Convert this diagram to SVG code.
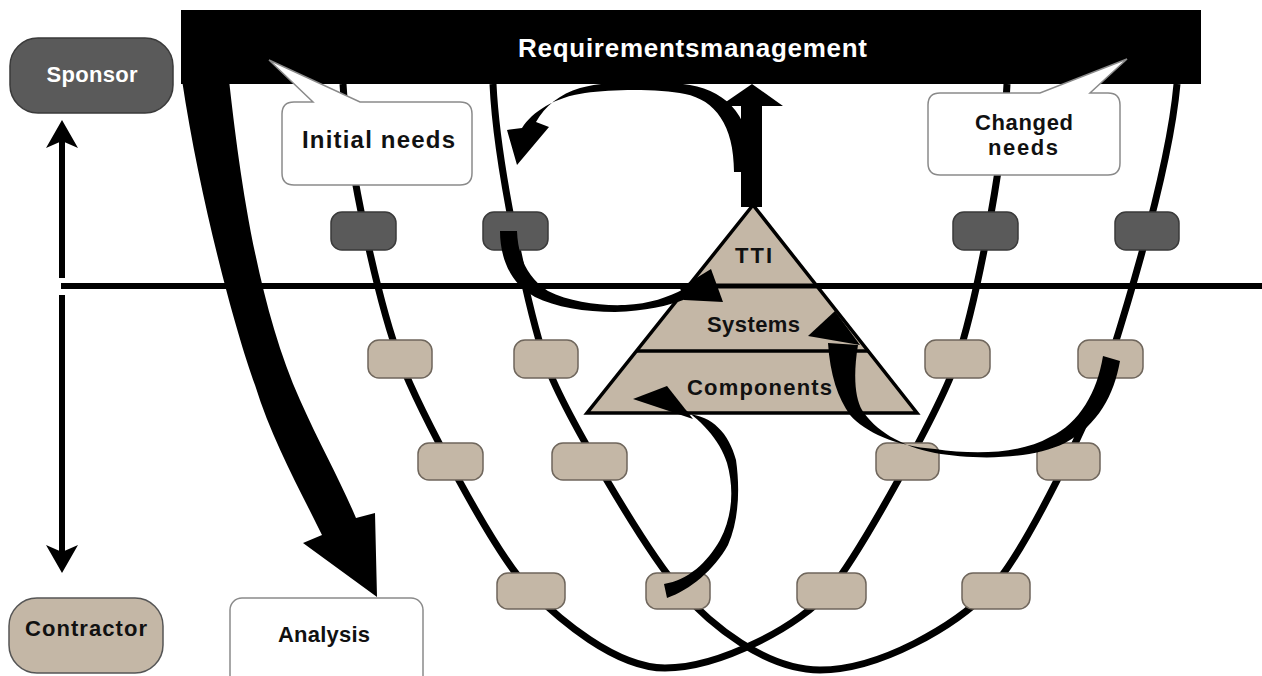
<svg xmlns="http://www.w3.org/2000/svg" width="1262" height="676" viewBox="0 0 1262 676">
<style>
.lbl{font-family:"Liberation Sans",Arial,sans-serif;font-weight:bold;font-size:22px;text-anchor:middle;fill:#111}
.wt{fill:#fff}
.tan{fill:#c4b7a6;stroke:#6f665c;stroke-width:1.5}
.dark{fill:#5a5a5a;stroke:#3a3a3a;stroke-width:1.5}
.curve{fill:none;stroke:#000;stroke-width:7}
.ln{stroke:#000;stroke-width:6;fill:none}
.call{fill:#fff;stroke:#8a8a8a;stroke-width:1.5}
.blk{fill:#000}
</style>
<rect width="1262" height="676" fill="#fff"/>

<g id="requirements-management">
<rect x="181" y="10" width="1020" height="74" fill="#000"/>
</g>

<g id="lanes">
<path class="blk" d="M182,80 L229,80 C238,160 255,300 300,400 C320,445 340,480 356,518 L375,513 L377,597 L303,543 L322,535 C300,490 272,440 255,385 C235,330 200,200 182,80 Z"/>
<path class="curve" d="M343,84 C348,174 382,313 400,360 C418,407 494.5,554.7 530,590 C558,618 615,668 665,668 C720,668 801.6,625.1 830,590 C861.5,551 941,407.4 957,360 C973,312.6 1003,174 1007,84"/>
<path class="curve" d="M493,84 C497,170 529.4,312.5 545,360 C560.6,407.5 647,552.5 680,590 C709.7,623.75 765,670 820,670 C880,670 955,626 990,590 C1025,554 1095,407.7 1110,360 C1125,312.3 1169,174 1177,84"/>
<line class="ln" x1="61" y1="286" x2="1262" y2="286"/>
<line class="ln" x1="62" y1="138" x2="62" y2="278"/>
<line class="ln" x1="62" y1="295" x2="62" y2="557"/>
<polygon class="blk" points="62,120 78,148 62,141 46,148"/>
<polygon class="blk" points="62,573 78,545 62,552 46,545"/>
</g>

<g id="label-requirements">
<text class="lbl" x="692.5" y="57" textLength="349" lengthAdjust="spacing" style="fill:#fff;font-size:26px">Requirementsmanagement</text>
</g>

<g id="initial-needs">
<path class="call" d="M294,102 L313,102 L269,60 L360,102 L460,102 Q472,102 472,114 L472,173 Q472,185 460,185 L294,185 Q282,185 282,173 L282,114 Q282,102 294,102 Z"/>
<text class="lbl" x="378.5" y="148" textLength="153" lengthAdjust="spacing" style="font-size:24px">Initial needs</text>
</g>

<g id="changed-needs">
<path class="call" d="M940,93 L1040,93 L1127,59 L1090,93 L1108,93 Q1120,93 1120,105 L1120,163 Q1120,175 1108,175 L940,175 Q928,175 928,163 L928,105 Q928,93 940,93 Z"/>
<text class="lbl" x="1024" y="130" textLength="98" lengthAdjust="spacing">Changed</text>
<text class="lbl" x="1023" y="155" textLength="70" lengthAdjust="spacing">needs</text>
</g>

<g id="sponsor">
<rect class="dark" x="10" y="38" width="163" height="75" rx="28"/>
<text class="lbl" x="92" y="82" textLength="91" lengthAdjust="spacing" style="fill:#fff">Sponsor</text>
</g>

<g id="contractor">
<rect class="tan" x="9" y="598" width="154" height="75" rx="28" style="stroke:#555"/>
<text class="lbl" x="86" y="636" textLength="122" lengthAdjust="spacing">Contractor</text>
</g>

<g id="analysis">
<rect class="call" x="230" y="598" width="193" height="95" rx="12"/>
<text class="lbl" x="324" y="642" textLength="92" lengthAdjust="spacing">Analysis</text>
</g>

<g id="nodes">
<g id="n1-1"><rect class="dark" x="331" y="212" width="65" height="38" rx="11"/></g>
<g id="n1-2"><rect class="dark" x="483" y="212" width="65" height="38" rx="11"/></g>
<g id="n1-3"><rect class="dark" x="953" y="212" width="65" height="38" rx="11"/></g>
<g id="n1-4"><rect class="dark" x="1115" y="212" width="64" height="38" rx="11"/></g>
<g id="n2-1"><rect class="tan" x="368" y="340" width="64" height="38" rx="11"/></g>
<g id="n2-2"><rect class="tan" x="514" y="340" width="64" height="38" rx="11"/></g>
<g id="n2-3"><rect class="tan" x="925" y="340" width="65" height="38" rx="11"/></g>
<g id="n2-4"><rect class="tan" x="1078" y="340" width="65" height="38" rx="11"/></g>
<g id="n3-1"><rect class="tan" x="418" y="443" width="65" height="37" rx="11"/></g>
<g id="n3-2"><rect class="tan" x="552" y="443" width="75" height="37" rx="11"/></g>
<g id="n3-3"><rect class="tan" x="876" y="443" width="63" height="37" rx="11"/></g>
<g id="n3-4"><rect class="tan" x="1037" y="443" width="63" height="37" rx="11"/></g>
<g id="n4-1"><rect class="tan" x="497" y="573" width="68" height="36" rx="11"/></g>
<g id="n4-2"><rect class="tan" x="646" y="573" width="64" height="36" rx="11"/></g>
<g id="n4-3"><rect class="tan" x="797" y="573" width="69" height="36" rx="11"/></g>
<g id="n4-4"><rect class="tan" x="962" y="573" width="68" height="36" rx="11"/></g>
</g>

<g id="pyramid">
<polygon points="753,205 587,413 917,413" fill="#c4b7a6" stroke="#000" stroke-width="3.5" stroke-linejoin="miter"/>
<line x1="668" y1="286" x2="838" y2="286" stroke="#000" stroke-width="5"/>
<line x1="636" y1="351" x2="869" y2="351" stroke="#000" stroke-width="3.5"/>
<text class="lbl" x="753.5" y="263" textLength="37" lengthAdjust="spacing">TTI</text>
<text class="lbl" x="753.5" y="332" textLength="93" lengthAdjust="spacing">Systems</text>
<text class="lbl" x="759.5" y="395" textLength="145" lengthAdjust="spacing">Components</text>
</g>

<g id="connectors">
<polygon class="blk" points="741,207 741,106 720,106 752,84 783,106 762,106 762,207"/>
<path class="blk" d="M752,172 C753,120 730,92 690,85 C660,80 610,80 580,88 C560,94 545,106 536,122 L549,127 L517,165 L507,130 L522,128 C532,112 555,97 585,93 C615,89 660,89 685,94 C715,100 734,125 734,172 Z"/>
<path class="blk" d="M500,231 L517,231 C518,258 528,278 548,291 C570,302 600,306 625,305 C650,304 668,297 684,289 L686,299 C668,306 645,311 615,312 C585,312 555,307 535,297 C512,285 500,260 500,231 Z"/>
<polygon class="blk" points="680,288 711,269 723,302 684,300"/>
<path class="blk" d="M676,404 C700,418 720,440 727,463 C734,488 733,515 720,540 C707,563 688,580 664,584 L667,598 C690,590 714,570 728,545 C739,520 740,488 736,460 C729,433 712,416 688,414 Z"/>
<polygon class="blk" points="633,399 667,386 693,419"/>
<path class="blk" d="M1120,361 C1114,395 1098,425 1065,443 C1030,460 975,460 935,453 C900,446 875,430 862,410 C855,398 853,375 858,345 L828,343 C830,375 838,398 850,415 C865,432 895,446 935,449 C975,455 1020,454 1050,437 C1080,423 1097,392 1103,356 Z"/>
<polygon class="blk" points="835,311 860,345 808,336"/>
</g>
</svg>
